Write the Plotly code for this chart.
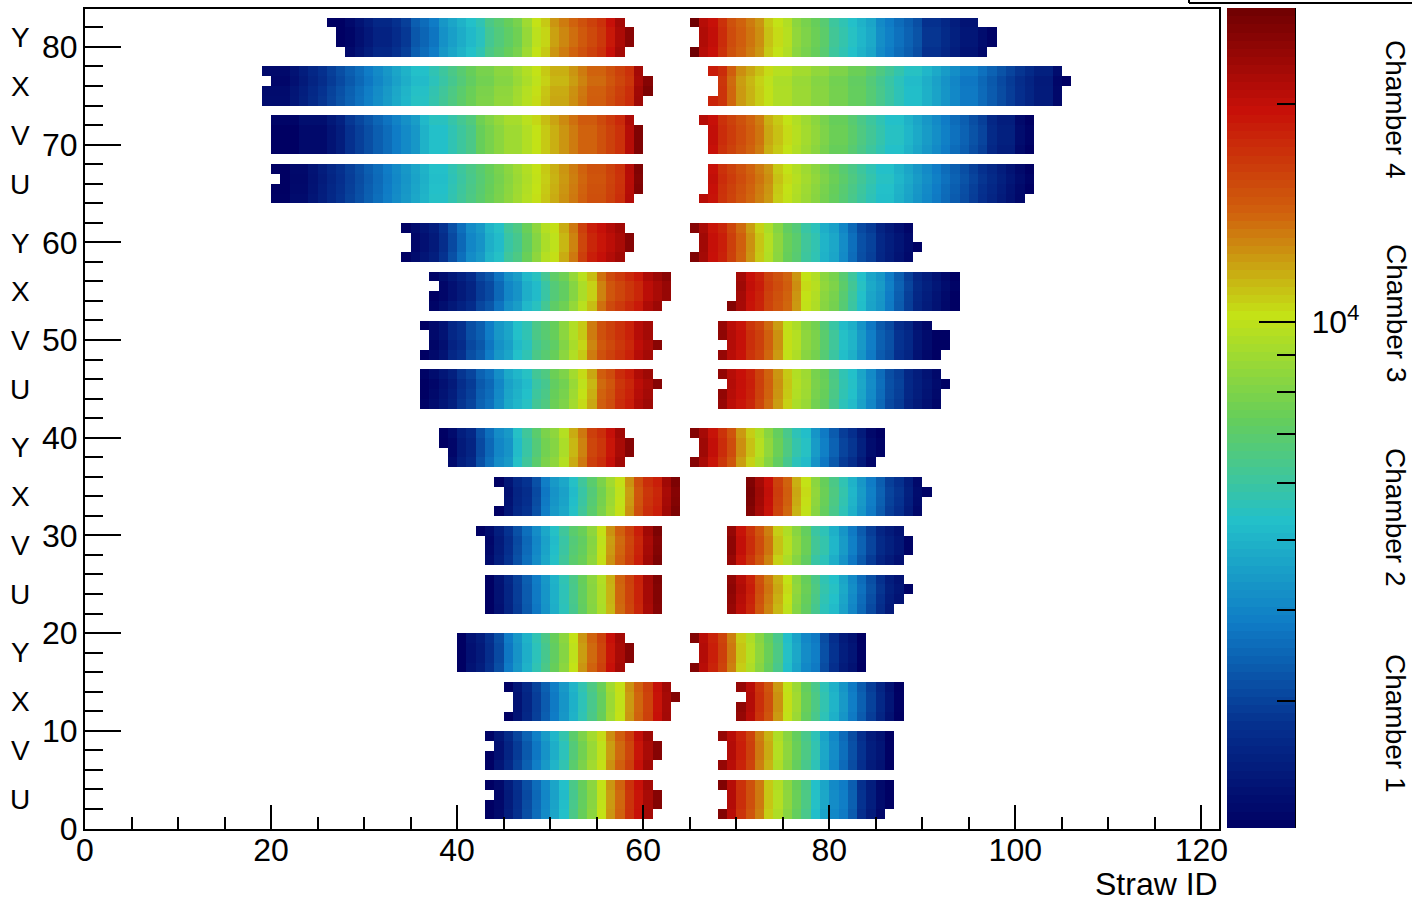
import numpy as np
import plotly.graph_objects as go

W, H = 1412, 902
PLOT_L, PLOT_R, PLOT_T, PLOT_B = 85, 1219, 9, 828.5
BAR_L, BAR_R = 1227, 1295
FONT = "Liberation Sans"
X_MAX = 121.9
Y_MAX = 83.88

Z_MIN, Z_MAX = 2000, 27150
Z_MINOR_TICKS = [3000, 4000, 5000, 6000, 7000, 8000, 9000, 20000]
Z_MAJOR_TICK = 10000
N_CONTOURS = 100

# ROOT rainbow palette
PALETTE = ["#000063", "#05308e", "#0f7cc6", "#23c0c9", "#66ce5a",
           "#c4e216", "#d0610d", "#c71008", "#6e0002"]

# Per-half-view counts by straw column.
C4_Y_L = [2000,2000,2130,2280,2430,2600,2600,2770,2960,3370,3590,3840,4370,4670,4980,5310,5670,6450,6890,7360,7850,8940,10190,10880,12390,13230,14120,15070,16090,17170,19560,22300,25400]
C4_X_L = [2130,2130,2130,2280,2430,2600,2770,2960,3150,3370,3590,3840,4100,4370,4670,4980,5310,5310,5670,6050,6450,6890,7360,7850,7850,8380,8380,8940,9550,10190,10880,11610,11610,12390,13230,14120,14120,15070,16090,17170,22300,25400]
C4_V_L = [2000,2000,2000,2130,2130,2130,2280,2430,2770,2960,3150,3370,3590,3840,4100,4370,4980,5310,5310,5670,6050,6450,7360,7850,8380,8940,8940,9550,10190,10880,11610,12390,13230,14120,14120,15070,16090,17170,20880,25400]
C4_U_L = [2000,2000,2130,2130,2280,2430,2600,2770,2960,3150,3370,3590,3840,4100,4370,4670,4980,5310,5310,5670,6050,6450,6890,7360,7850,8380,8940,9550,10190,10880,11610,12390,13230,14120,15070,15070,16090,17170,20880,25400]
C4_Y_R = [27150,20880,19560,17170,15070,14120,13230,12390,10880,10190,9550,8380,7850,7360,6890,6050,5670,5310,4980,4670,4100,3840,3590,3370,3150,2770,2770,2600,2430,2280,2280,2130,2000]
C4_X_R = [18330,17170,14120,12390,11610,10880,10190,9550,9550,8940,8940,8380,8380,7850,7850,7360,7360,6890,6450,6050,5670,5310,5310,4980,4670,4370,4100,3840,3840,3590,3370,3150,2960,2770,2600,2430,2430,2130,2000]
C4_V_R = [20880,19560,17170,16090,15070,14120,13230,11610,10880,10190,9550,8940,8380,7850,7360,7360,6890,6450,6050,5670,5310,5310,4980,4670,4370,4100,3840,3590,3370,3150,2960,2600,2430,2430,2130,2000]
C4_U_R = [20880,19560,17170,16090,15070,14120,13230,12390,10880,10190,9550,8940,8380,7850,7360,6890,6450,6050,5670,5310,5310,4980,4670,4370,4100,3840,3590,3370,3150,2960,2770,2600,2430,2280,2130,2000]
C3_Y_L = [2000,2130,2280,2430,2770,3150,3590,4100,4370,4980,5310,6050,6450,7360,8380,9550,10190,11610,13230,16090,18330,19560,20880,22300,25400]
C3_X_L = [2000,2130,2280,2430,2600,2960,3150,3590,4100,4370,4980,5310,6050,6890,7360,8380,9550,10880,13230,15070,16090,17170,18330,20880,22300,23800]
C3_V_L = [2000,2130,2280,2600,2770,3150,3370,3840,4370,4670,5310,5670,6450,6890,7360,8380,9550,10880,13230,15070,16090,17170,18330,20880,22300,25400]
C3_U_L = [2000,2130,2280,2430,2770,2960,3370,3590,4100,4670,4980,5310,6050,6450,7360,7850,8940,10190,11610,14120,15070,17170,18330,20880,22300,25400]
C3_Y_R = [25400,22300,19560,18330,16090,14120,12390,10880,9550,8380,7360,6890,6050,5670,4980,4670,4100,3590,3150,2960,2600,2430,2280,2130,2000]
C3_X_R = [25400,22300,19560,18330,16090,15070,14120,12390,10190,9550,8380,7850,6890,6050,5310,4670,4370,3840,3370,2960,2600,2430,2280,2130,2000]
C3_V_R = [23800,20880,19560,17170,16090,14120,12390,10190,9550,8380,7850,6890,6050,5310,4980,4370,3840,3370,3150,2770,2600,2280,2130,2000,2000]
C3_U_R = [23800,20880,19560,18330,16090,14120,12390,10880,9550,8940,7850,7360,6450,5670,5310,4670,4100,3590,3150,2960,2600,2430,2280,2130,2000]
C2_Y_L = [2000,2130,2430,2600,3150,3590,4100,4370,5310,6050,6890,7850,8380,9550,11610,13230,16090,17170,19560,22300,25400]
C2_X_L = [2000,2280,2600,2770,3150,3840,4370,4670,5310,6050,6890,7850,8940,10190,12390,15070,17170,18330,22300,25400]
C2_V_L = [2000,2130,2430,2770,3150,3590,4100,4670,5310,6050,6890,7360,8380,10190,12390,14120,16090,18330,22300,25400]
C2_U_L = [2000,2280,2600,2960,3370,3840,4370,4980,5670,6450,7360,8380,9550,11610,14120,16090,18330,22300,25400]
C2_Y_R = [25400,22300,19560,17170,15070,12390,10880,9550,8380,7360,6450,5670,5310,4370,3840,3370,2960,2770,2430,2130,2000]
C2_X_R = [25400,22300,19560,16090,14120,11610,10190,8380,7360,6450,5670,4980,4370,3840,3370,2960,2770,2430,2130,2000]
C2_V_R = [23800,19560,17170,15070,13230,10880,9550,8380,7360,6050,5670,4980,4370,3840,3370,2960,2600,2430,2280,2000]
C2_U_R = [23800,20880,18330,15070,13230,11610,10190,8380,7360,6450,5670,5310,4670,4100,3590,3150,2770,2430,2280,2000]
C1_Y_L = [2000,2280,2430,2770,3150,3840,4370,4980,5670,6450,7360,8380,10190,12390,14120,16090,19560,22300,25400]
C1_X_L = [2000,2280,2600,2960,3370,3840,4370,4980,5670,6450,7360,8940,10190,12390,14120,16090,19560,22300,25400]
C1_V_L = [2000,2280,2600,2960,3370,3840,4370,4980,5670,6890,7850,8940,10190,12390,14120,16090,19560,22300,25400]
C1_U_L = [2000,2130,2430,2770,3150,3590,4100,4670,5310,6450,7360,8380,10190,12390,14120,17170,19560,22300,25400]
C1_Y_R = [25400,20880,18330,16090,13230,10880,9550,8380,7360,6450,5310,4670,4100,3840,3150,2770,2430,2280,2000]
C1_X_R = [23800,20880,17170,15070,12390,10190,8940,7360,6450,5670,4980,4370,3840,3370,2960,2600,2280,2000]
C1_V_R = [23800,20880,18330,16090,13230,11610,9550,8380,7360,6450,5670,4670,4100,3590,3150,2770,2430,2280,2000]
C1_U_R = [25400,20880,17170,15070,13230,10880,9550,8380,7360,6450,5310,4670,4100,3840,3370,2770,2430,2130,2000]

# (bottom layer bin, values, per-row [first, last+1) straws, per-row rate ratio), rows top to bottom
HALF_VIEWS = [
    (79, C4_Y_L, [(26,58),(27,59),(27,59),(28,58)], [1.00,0.97,0.97,1.00]),
    (74, C4_X_L, [(19,60),(20,61),(19,61),(19,60)], [1.00,0.98,1.01,1.02]),
    (69, C4_V_L, [(20,59),(20,60),(20,60),(20,60)], [1.03,1.00,1.00,1.00]),
    (64, C4_U_L, [(20,60),(21,60),(20,60),(20,59)], [1.00,0.99,1.00,1.01]),
    (79, C4_Y_R, [(65,96),(66,98),(66,98),(65,97)], [1.00,1.02,1.02,1.00]),
    (74, C4_X_R, [(67,105),(68,106),(68,105),(67,105)], [1.02,0.98,0.99,0.99]),
    (69, C4_V_R, [(66,102),(67,102),(67,102),(67,102)], [1.00,1.02,1.02,1.00]),
    (64, C4_U_R, [(67,102),(67,102),(67,102),(66,101)], [1.00,1.02,1.00,0.99]),
    (58, C3_Y_L, [(34,58),(35,59),(35,59),(34,58)], [1.01,0.98,0.98,1.01]),
    (53, C3_X_L, [(37,63),(38,63),(37,63),(37,62)], [1.03,0.98,0.98,1.03]),
    (48, C3_V_L, [(36,61),(37,61),(37,62),(36,61)], [1.00,1.00,0.97,1.00]),
    (43, C3_U_L, [(36,61),(36,62),(36,61),(36,61)], [1.02,0.98,1.00,1.02]),
    (58, C3_Y_R, [(65,89),(66,89),(66,90),(65,89)], [0.98,1.01,1.01,1.00]),
    (53, C3_X_R, [(70,94),(70,94),(70,94),(69,94)], [1.00,1.02,1.00,0.99]),
    (48, C3_V_R, [(68,91),(68,93),(69,93),(68,92)], [0.98,1.01,1.01,0.99]),
    (43, C3_U_R, [(68,92),(69,93),(68,92),(68,92)], [1.00,1.01,1.00,0.98]),
    (37, C2_Y_L, [(38,58),(38,59),(39,59),(39,58)], [1.01,0.98,0.98,1.01]),
    (32, C2_X_L, [(44,64),(45,64),(45,64),(44,64)], [1.01,0.98,0.99,1.01]),
    (27, C2_V_L, [(42,62),(43,62),(43,62),(43,62)], [1.01,0.98,0.99,1.01]),
    (22, C2_U_L, [(43,62),(43,62),(43,62),(43,62)], [1.00,0.99,0.99,0.98]),
    (37, C2_Y_R, [(65,86),(66,86),(66,86),(65,85)], [0.99,1.02,1.02,0.98]),
    (32, C2_X_R, [(71,90),(71,91),(71,90),(71,90)], [1.00,1.02,1.01,0.99]),
    (27, C2_V_R, [(69,88),(69,89),(69,89),(69,88)], [0.99,1.02,1.02,0.98]),
    (22, C2_U_R, [(69,88),(69,89),(69,88),(69,87)], [1.00,1.02,1.00,0.98]),
    (16, C1_Y_L, [(40,58),(40,59),(40,59),(40,58)], [1.00,0.98,0.98,1.00]),
    (11, C1_X_L, [(45,63),(46,64),(46,63),(45,63)], [1.01,0.99,0.99,1.00]),
    (6,  C1_V_L, [(43,61),(44,62),(43,62),(43,61)], [1.02,0.98,0.98,1.01]),
    (1,  C1_U_L, [(43,61),(44,62),(43,62),(43,61)], [1.00,0.98,0.99,1.00]),
    (16, C1_Y_R, [(65,84),(66,84),(66,84),(65,84)], [0.99,1.01,1.01,0.99]),
    (11, C1_X_R, [(70,88),(71,88),(70,88),(70,88)], [0.99,1.01,1.01,0.99]),
    (6,  C1_V_R, [(68,87),(69,87),(69,87),(68,87)], [0.99,1.01,1.01,0.99]),
    (1,  C1_U_R, [(68,87),(69,87),(69,87),(68,86)], [1.00,1.01,1.01,0.99]),
]

VIEW_LABELS = ["Y","X","V","U","Y","X","V","U","Y","X","V","U","Y","X","V","U"]
VIEW_LABEL_PX = [38,87,135,184,243,291,340,389,447,496,545,594,652,701,750,799]
CHAMBER_LABELS = ["Chamber 4","Chamber 3","Chamber 2","Chamber 1"]
CHAMBER_LABEL_PX = [109,313,517,723]
X_TITLE = "Straw ID"

N_X, N_Y = 122, 84
grid = np.full((N_Y, N_X), np.nan)
for base, values, rows, gains in HALF_VIEWS:
    start = min(r[0] for r in rows)
    stop = max(r[1] for r in rows)
    assert len(values) == stop - start, (base, start, stop, len(values))
    for i, (lo, hi) in enumerate(rows):
        y_bin = base + 3 - i
        for c in range(lo, hi):
            grid[y_bin, c] = np.log10(values[c - start] * gains[i])

xs = np.arange(N_X) + 0.5
ys = np.arange(N_Y) + 0.5
lmin, lmax = np.log10(Z_MIN), np.log10(Z_MAX)
bar_edges = np.linspace(lmin, lmax, N_CONTOURS + 1)
bar_y = (bar_edges[:-1] + bar_edges[1:]) / 2
bar_z = bar_y.reshape(-1, 1)

fig = go.Figure()
fig.add_trace(go.Heatmap(x=xs, y=ys, z=grid, coloraxis="coloraxis",
                         hoverongaps=False, zsmooth=False))
fig.add_trace(go.Heatmap(x=[0.5], y=bar_y, z=bar_z, coloraxis="coloraxis",
                         xaxis="x2", yaxis="y2", zsmooth=False))


def px_x(p):
    return p / W


def px_y(p):
    return 1 - p / H


axis_font = dict(family=FONT, size=32, color="black")
annotations = [
    dict(text=t, x=px_x(20), y=px_y(p), xref="paper", yref="paper", showarrow=False,
         xanchor="center", yanchor="middle", font=dict(family=FONT, size=28, color="black"))
    for t, p in zip(VIEW_LABELS, VIEW_LABEL_PX)
]
annotations += [
    dict(text=t, x=px_x(1396), y=px_y(p), xref="paper", yref="paper", showarrow=False,
         textangle=90, xanchor="center", yanchor="middle",
         font=dict(family=FONT, size=28, color="black"))
    for t, p in zip(CHAMBER_LABELS, CHAMBER_LABEL_PX)
]
annotations.append(dict(text=X_TITLE, x=px_x(1220), y=px_y(884), xref="paper", yref="paper",
                        showarrow=False, xanchor="right", yanchor="middle",
                        font=dict(family=FONT, size=32, color="black")))

fig.update_layout(
    width=W, height=H, autosize=False, margin=dict(l=0, r=0, t=0, b=0),
    paper_bgcolor="white", plot_bgcolor="white", showlegend=False,
    coloraxis=dict(colorscale=[[i / 8, c] for i, c in enumerate(PALETTE)],
                   cmin=lmin, cmax=lmax, showscale=False),
    xaxis=dict(domain=[px_x(PLOT_L), px_x(PLOT_R)], range=[0, X_MAX], automargin=False,
               tick0=0, dtick=20, ticks="inside", ticklen=24, tickwidth=1.5, tickcolor="black",
               minor=dict(dtick=5, ticks="inside", ticklen=12, tickwidth=1.5, tickcolor="black", showgrid=False),
               showgrid=False, zeroline=False, showline=True, linecolor="black", linewidth=2,
               mirror=True, tickfont=axis_font, ticklabelstandoff=-8),
    yaxis=dict(domain=[px_y(PLOT_B), px_y(PLOT_T)], range=[0, Y_MAX], automargin=False,
               tick0=0, dtick=10, ticks="inside", ticklen=36, tickwidth=1.5, tickcolor="black",
               minor=dict(dtick=2, ticks="inside", ticklen=18, tickwidth=1.5, tickcolor="black", showgrid=False),
               showgrid=False, zeroline=False, showline=True, linecolor="black", linewidth=2,
               mirror=True, tickfont=axis_font, ticklabelstandoff=-1),
    xaxis2=dict(domain=[px_x(BAR_L), px_x(BAR_R)], range=[0, 1], anchor="y2", automargin=False,
                showticklabels=False, ticks="", showgrid=False, zeroline=False),
    yaxis2=dict(domain=[px_y(828), px_y(8)], range=[lmin, lmax], anchor="x2", side="right", automargin=False,
                tickmode="array", tickvals=[np.log10(Z_MAJOR_TICK)], ticktext=["10<sup>4</sup>"],
                ticks="inside", ticklen=36, tickwidth=1.5, tickcolor="black",
                minor=dict(tickmode="array", tickvals=list(np.log10(Z_MINOR_TICKS)), ticks="inside",
                           ticklen=18, tickwidth=1.5, tickcolor="black", showgrid=False),
                showgrid=False, zeroline=False, showline=True, linecolor="black", linewidth=1,
                tickfont=axis_font, ticklabelstandoff=9),
    annotations=annotations,
    shapes=[
        dict(type="line", xref="paper", yref="paper", x0=px_x(1189), x1=1, y0=px_y(3), y1=px_y(3),
             line=dict(color="black", width=2)),
        dict(type="line", xref="paper", yref="paper", x0=px_x(1189), x1=px_x(1189), y0=px_y(3), y1=1,
             line=dict(color="black", width=2)),
    ],
)

fig.write_html(
    "out.html",
    config={"displayModeBar": False},
    post_script="document.body.style.margin='0';document.body.style.overflow='hidden';",
)
